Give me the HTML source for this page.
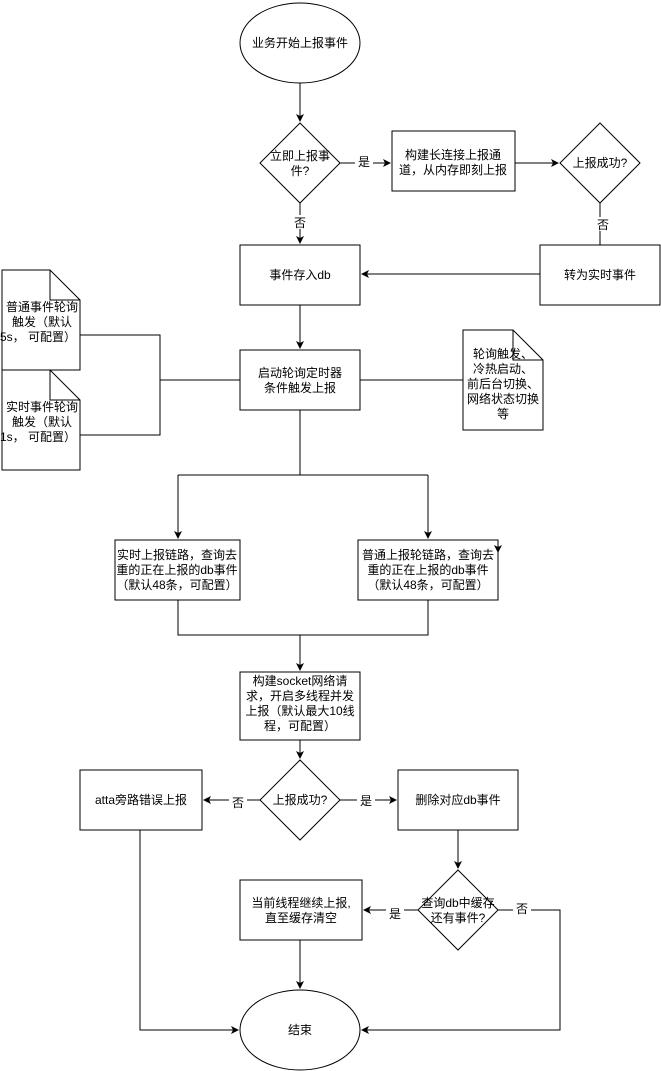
<!DOCTYPE html>
<html><head><meta charset="utf-8"><style>
html,body{margin:0;padding:0;background:#fff;}
svg{display:block;font-family:"Liberation Sans","Noto Sans CJK SC",sans-serif;font-size:12px;}
text{text-anchor:middle;fill:#000;}
</style></head><body>
<svg width="661" height="1071" viewBox="0 0 661 1071" xmlns="http://www.w3.org/2000/svg">
<defs><marker id="a" markerWidth="8" markerHeight="8" refX="7" refY="4" orient="auto" markerUnits="userSpaceOnUse"><path d="M0,0 L8,4 L0,8 L2,4 Z" fill="#000"/></marker></defs>
<g fill="#fff" stroke="#000" stroke-width="1">
<ellipse cx="300" cy="43" rx="60" ry="40"/>
<polygon points="300,123 340,163 300,203 260,163"/>
<rect x="392" y="131" width="123" height="60"/>
<polygon points="600,123 640,163 600,203 560,163"/>
<rect x="540" y="245" width="120" height="60"/>
<rect x="240" y="245" width="120" height="60"/>
<rect x="240" y="350" width="120" height="60"/>
<path d="M2,270 H50 L80,300 V370 H2 Z"/><path d="M50,270 V300 H80" fill="none"/>
<path d="M2,370 H50 L80,400 V470 H2 Z"/><path d="M50,370 V400 H80" fill="none"/>
<path d="M463,330 H513 L543,360 V430 H463 Z"/><path d="M513,330 V360 H543" fill="none"/>
<rect x="115" y="540" width="125" height="60"/>
<rect x="358" y="540" width="140" height="60"/>
<rect x="240" y="672" width="120" height="68"/>
<polygon points="300,760 340,800 300,840 260,800"/>
<rect x="80" y="770" width="122" height="60"/>
<rect x="398" y="770" width="120" height="60"/>
<polygon points="458,870 498,910 458,950 418,910"/>
<rect x="240" y="880" width="122" height="60"/>
<ellipse cx="300" cy="1030" rx="60" ry="40"/>
</g>
<g fill="none" stroke="#000" stroke-width="1">
<path d="M300,83 V121" marker-end="url(#a)"/>
<path d="M340,163 H390" marker-end="url(#a)"/>
<path d="M515,163 H558" marker-end="url(#a)"/>
<path d="M600,203 V245"/>
<path d="M540,274 H362" marker-end="url(#a)"/>
<path d="M300,203 V243" marker-end="url(#a)"/>
<path d="M300,305 V348" marker-end="url(#a)"/>
<path d="M80,335 H160 V435 H80 M160,380 H240"/>
<path d="M360,380 H463"/>
<path d="M300,410 V475 M178,475 H428"/>
<path d="M178,475 V538" marker-end="url(#a)"/>
<path d="M428,475 V538" marker-end="url(#a)"/>
<path d="M498,540 V552" marker-end="url(#a)"/>
<path d="M178,600 V635 H428 V600"/>
<path d="M300,635 V670" marker-end="url(#a)"/>
<path d="M300,740 V758" marker-end="url(#a)"/>
<path d="M260,800 H204" marker-end="url(#a)"/>
<path d="M340,800 H396" marker-end="url(#a)"/>
<path d="M458,830 V868" marker-end="url(#a)"/>
<path d="M418,910 H364" marker-end="url(#a)"/>
<path d="M498,910 H560 V1030 H362" marker-end="url(#a)"/>
<path d="M140,830 V1030 H238" marker-end="url(#a)"/>
<path d="M300,940 V988" marker-end="url(#a)"/>
</g>
<g>
<text x="300" y="47">业务开始上报事件</text>
<text x="300" y="160">立即上报事</text><text x="300" y="175">件?</text>
<rect x="355" y="154" width="18" height="14" fill="#fff"/><text x="364" y="166">是</text>
<text x="453" y="159">构建长连接上报通</text><text x="453" y="174">道，从内存即刻上报</text>
<text x="600" y="167">上报成功?</text>
<rect x="593" y="217" width="18" height="14" fill="#fff"/><text x="603" y="229">否</text>
<rect x="291" y="215" width="18" height="14" fill="#fff"/><text x="300" y="227">否</text>
<text x="600" y="279">转为实时事件</text>
<text x="300" y="279">事件存入db</text>
<text x="300" y="377">启动轮询定时器</text><text x="300" y="392">条件触发上报</text>
<text x="42" y="311">普通事件轮询</text><text x="42" y="326">触发（默认</text><text x="38" y="341">5s， 可配置）</text>
<text x="42" y="411">实时事件轮询</text><text x="42" y="426">触发（默认</text><text x="38" y="441">1s， 可配置）</text>
<text x="503" y="358">轮询触发、</text><text x="503" y="373">冷热启动、</text><text x="503" y="388">前后台切换、</text><text x="503" y="403">网络状态切换</text><text x="503" y="418">等</text>
<text x="177" y="559">实时上报链路，查询去</text><text x="177" y="574">重的正在上报的db事件</text><text x="177" y="589">（默认48条，可配置）</text>
<text x="428" y="559">普通上报轮链路，查询去</text><text x="428" y="574">重的正在上报的db事件</text><text x="428" y="589">（默认48条，可配置）</text>
<text x="300" y="685">构建socket网络请</text><text x="300" y="700">求，开启多线程并发</text><text x="300" y="715">上报（默认最大10线</text><text x="300" y="730">程，可配置）</text>
<text x="300" y="804">上报成功?</text>
<rect x="229" y="795" width="18" height="14" fill="#fff"/><text x="238" y="807">否</text>
<rect x="357" y="793" width="18" height="14" fill="#fff"/><text x="366" y="805">是</text>
<text x="141" y="804">atta旁路错误上报</text>
<text x="458" y="804">删除对应db事件</text>
<text x="458" y="907">查询db中缓存</text><text x="458" y="922">还有事件?</text>
<rect x="386" y="906" width="18" height="14" fill="#fff"/><text x="395" y="918">是</text>
<rect x="513" y="901" width="18" height="14" fill="#fff"/><text x="522" y="913">否</text>
<text x="301" y="907">当前线程继续上报,</text><text x="301" y="922">直至缓存清空</text>
<text x="300" y="1034">结束</text>
</g>
</svg>
</body></html>
